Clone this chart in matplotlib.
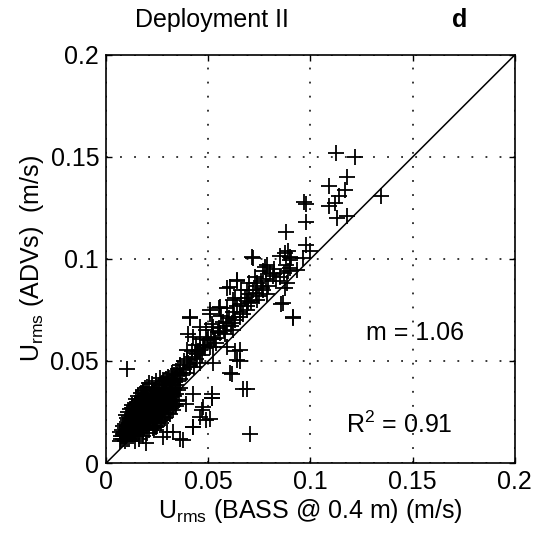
import matplotlib
matplotlib.use("Agg")
import matplotlib.pyplot as plt

plt.rcParams['font.family'] = ['Liberation Sans', 'DejaVu Sans']
plt.rcParams['mathtext.fontset'] = 'custom'
plt.rcParams['mathtext.rm'] = 'Liberation Sans'

# Dense cluster (BASS x, ADV y)
cluster_x = [
    0.007, 0.0072, 0.0068, 0.0071,
    0.008, 0.0082, 0.0079, 0.0081, 0.0083,
    0.009, 0.0092, 0.0089, 0.0091, 0.0093, 0.0088,
    0.010, 0.0102, 0.0099, 0.0101, 0.0103, 0.0098, 0.0104,
    0.011, 0.0112, 0.0109, 0.0111, 0.0113, 0.0108, 0.0114,
    0.012, 0.0122, 0.0119, 0.0121, 0.0123, 0.0118, 0.0124, 0.0117,
    0.013, 0.0132, 0.0129, 0.0131, 0.0133, 0.0128, 0.0134, 0.0127,
    0.014, 0.0142, 0.0139, 0.0141, 0.0143, 0.0138, 0.0144, 0.0137,
    0.015, 0.0152, 0.0149, 0.0151, 0.0153, 0.0148, 0.0154, 0.0147,
    0.016, 0.0162, 0.0159, 0.0161, 0.0163, 0.0158, 0.0164, 0.0157,
    0.017, 0.0172, 0.0169, 0.0171, 0.0173, 0.0168, 0.0174, 0.0167,
    0.018, 0.0182, 0.0179, 0.0181, 0.0183, 0.0178, 0.0184, 0.0177,
    0.019, 0.0192, 0.0189, 0.0191, 0.0193, 0.0188, 0.0194, 0.0187,
    0.020, 0.0202, 0.0199, 0.0201, 0.0203, 0.0198, 0.0204, 0.0197,
    0.021, 0.0212, 0.0209, 0.0211, 0.0213, 0.0208, 0.0214,
    0.022, 0.0222, 0.0219, 0.0221, 0.0223, 0.0218, 0.0224,
    0.023, 0.0232, 0.0229, 0.0231, 0.0233, 0.0228, 0.0234,
    0.024, 0.0242, 0.0239, 0.0241, 0.0243, 0.0238,
    0.025, 0.0252, 0.0249, 0.0251, 0.0253, 0.0248,
    0.026, 0.0262, 0.0259, 0.0261, 0.0263, 0.0258,
    0.027, 0.0272, 0.0269, 0.0271, 0.0273,
    0.028, 0.0282, 0.0279, 0.0281, 0.0283,
    0.029, 0.0292, 0.0289, 0.0291, 0.0293,
    0.030, 0.0302, 0.0299, 0.0301, 0.0303,
    0.031, 0.0312, 0.0309, 0.0311,
    0.032, 0.0322, 0.0319, 0.0321, 0.0323,
    0.033, 0.0332, 0.0329, 0.0331,
    0.034, 0.0342, 0.0339, 0.0341,
    0.035, 0.0352, 0.0349, 0.0351,
    0.036, 0.0362, 0.0359,
    # upper-left edge of the cluster
    0.0095, 0.0118, 0.0139, 0.0158, 0.0179, 0.0201, 0.0222, 0.0243, 0.0262,
    0.0108, 0.0128, 0.0148, 0.0168, 0.0189,
    # lower-right edge of the cluster
    0.0142, 0.0161, 0.0181, 0.0199, 0.0212, 0.0228, 0.0241, 0.0252, 0.0262,
    0.0271, 0.0282, 0.0291, 0.0301, 0.0309, 0.0318, 0.0329, 0.0338, 0.0348,
    0.0232, 0.0248, 0.0268, 0.0288, 0.0311, 0.0327, 0.0344, 0.0358,
]
cluster_y = [
    0.011, 0.013, 0.015, 0.012,
    0.012, 0.014, 0.016, 0.013, 0.018,
    0.011, 0.013, 0.015, 0.017, 0.019, 0.014,
    0.012, 0.014, 0.016, 0.018, 0.020, 0.013, 0.022,
    0.012, 0.014, 0.015, 0.017, 0.019, 0.021, 0.023,
    0.013, 0.015, 0.017, 0.018, 0.020, 0.022, 0.024, 0.014,
    0.013, 0.015, 0.016, 0.018, 0.020, 0.022, 0.025, 0.027,
    0.014, 0.016, 0.018, 0.019, 0.021, 0.023, 0.026, 0.028,
    0.014, 0.016, 0.018, 0.020, 0.022, 0.024, 0.025, 0.029,
    0.015, 0.017, 0.019, 0.021, 0.023, 0.025, 0.027, 0.030,
    0.016, 0.018, 0.020, 0.022, 0.024, 0.026, 0.028, 0.031,
    0.016, 0.019, 0.021, 0.023, 0.025, 0.027, 0.029, 0.032,
    0.017, 0.020, 0.022, 0.024, 0.026, 0.028, 0.030, 0.033,
    0.018, 0.021, 0.023, 0.025, 0.027, 0.029, 0.031, 0.034,
    0.019, 0.022, 0.024, 0.026, 0.028, 0.030, 0.033,
    0.020, 0.023, 0.025, 0.027, 0.029, 0.032, 0.035,
    0.021, 0.024, 0.026, 0.028, 0.031, 0.034, 0.036,
    0.022, 0.025, 0.027, 0.030, 0.033, 0.036,
    0.023, 0.026, 0.029, 0.031, 0.034, 0.037,
    0.024, 0.028, 0.030, 0.033, 0.035, 0.038,
    0.025, 0.029, 0.032, 0.035, 0.039,
    0.027, 0.030, 0.033, 0.036, 0.040,
    0.028, 0.031, 0.034, 0.037, 0.041,
    0.029, 0.032, 0.035, 0.038, 0.042,
    0.030, 0.034, 0.037, 0.040,
    0.031, 0.035, 0.038, 0.041, 0.044,
    0.033, 0.036, 0.039, 0.043,
    0.034, 0.038, 0.041, 0.045,
    0.036, 0.040, 0.043, 0.046,
    0.037, 0.041, 0.044,
    0.0235, 0.0265, 0.0295, 0.0328, 0.0352, 0.0374, 0.0389, 0.0402, 0.0418,
    0.0251, 0.0282, 0.0312, 0.0341, 0.0366,
    0.0108, 0.0118, 0.0131, 0.0148, 0.0162, 0.0171, 0.0182, 0.0195, 0.0207,
    0.0213, 0.0224, 0.0238, 0.0246, 0.0259, 0.0268, 0.0279, 0.0291, 0.0302,
    0.0162, 0.0179, 0.0198, 0.0219, 0.0241, 0.0262, 0.0281, 0.0311,
]

# Middle band
band_x = [
    0.0712, 0.085, 0.090, 0.0963, 0.0933, 0.0883, 0.0778, 0.0817, 0.0639, 0.0606,
    0.0688, 0.0737, 0.0866, 0.0915, 0.0557, 0.0509, 0.0623, 0.0688, 0.0737, 0.0786,
    0.041, 0.046, 0.0524, 0.059, 0.0655, 0.0427, 0.0492, 0.0557, 0.0623, 0.0394,
    0.046, 0.0524, 0.0655, 0.0639, 0.0606, 0.046, 0.0524, 0.041, 0.059,
    0.041, 0.0508, 0.040, 0.055, 0.064, 0.059, 0.072, 0.0785, 0.082,
    0.045, 0.048, 0.050, 0.053, 0.055, 0.057, 0.060, 0.062, 0.064, 0.066,
    0.068, 0.070, 0.072, 0.074, 0.076, 0.078, 0.080, 0.082, 0.044, 0.047,
    0.051, 0.054, 0.058, 0.061, 0.063, 0.067, 0.069, 0.071, 0.075, 0.077,
    0.079, 0.083, 0.085, 0.038, 0.040, 0.042, 0.039, 0.041, 0.043, 0.037,
    0.036, 0.038, 0.042, 0.044, 0.046, 0.049, 0.052, 0.056, 0.059, 0.063,
    0.066, 0.070, 0.073, 0.077, 0.088, 0.090, 0.087, 0.089,
    0.0445, 0.0485, 0.0535, 0.0575, 0.0615, 0.0655, 0.0695, 0.0735, 0.0765,
    0.0395, 0.0435, 0.0475, 0.0515, 0.0545, 0.0585, 0.0625,
]
band_y = [
    0.1009, 0.1017, 0.0993, 0.1007, 0.0944, 0.088, 0.096, 0.0919, 0.0895, 0.0862,
    0.0846, 0.088, 0.0782, 0.0715, 0.0764, 0.0748, 0.0797, 0.0748, 0.0797, 0.083,
    0.0715, 0.0667, 0.0667, 0.0684, 0.0715, 0.0618, 0.0601, 0.0635, 0.065, 0.0553,
    0.0553, 0.0569, 0.0553, 0.0504, 0.044, 0.0489, 0.0489, 0.047, 0.0569,
    0.071, 0.073, 0.063, 0.076, 0.089, 0.086, 0.1007, 0.097, 0.0925,
    0.055, 0.058, 0.062, 0.061, 0.066, 0.069, 0.071, 0.074, 0.077, 0.078,
    0.081, 0.083, 0.085, 0.087, 0.089, 0.090, 0.093, 0.095, 0.051, 0.053,
    0.057, 0.059, 0.063, 0.067, 0.070, 0.073, 0.077, 0.079, 0.082, 0.085,
    0.087, 0.089, 0.091, 0.046, 0.049, 0.052, 0.044, 0.048, 0.047, 0.043,
    0.048, 0.050, 0.055, 0.058, 0.061, 0.065, 0.068, 0.072, 0.076, 0.081,
    0.085, 0.088, 0.091, 0.094, 0.097, 0.101, 0.093, 0.094,
    0.0535, 0.0565, 0.0612, 0.0648, 0.0688, 0.0742, 0.0785, 0.0832, 0.0858,
    0.0512, 0.0538, 0.0572, 0.0608, 0.0641, 0.0672, 0.0715,
]

# Scattered points (high end and off-diagonal)
sparse_x = [
    0.1127, 0.122, 0.118, 0.109, 0.117, 0.114, 0.112, 0.109, 0.113, 0.118,
    0.1347, 0.098, 0.097, 0.098, 0.088, 0.089, 0.0875, 0.098, 0.0997, 0.0907,
    0.090, 0.0875, 0.0858, 0.0915, 0.0687, 0.063, 0.0655, 0.0614, 0.067, 0.0687,
    0.0516, 0.052, 0.0704, 0.0101, 0.0508, 0.046, 0.0427, 0.036, 0.0296, 0.0476,
    0.028, 0.0377, 0.0328, 0.0425, 0.049, 0.047, 0.039, 0.0425, 0.052, 0.0245,
    0.0196, 0.018, 0.021, 0.028,
]
sparse_y = [
    0.152, 0.150, 0.140, 0.136, 0.134, 0.131, 0.1275, 0.126, 0.120, 0.121,
    0.131, 0.127, 0.128, 0.118, 0.113, 0.104, 0.103, 0.107, 0.104, 0.1007,
    0.0958, 0.086, 0.078, 0.071, 0.0795, 0.055, 0.050, 0.0436, 0.0363, 0.0363,
    0.0339, 0.032, 0.0143, 0.046, 0.0217, 0.0225, 0.0176, 0.012, 0.015, 0.0274,
    0.0127, 0.0112, 0.015, 0.0176, 0.021, 0.026, 0.029, 0.034, 0.032, 0.0176,
    0.010, 0.0357, 0.039, 0.0405,
]

ticks = [0, 0.05, 0.1, 0.15, 0.2]
tick_labels = ['0', '0.05', '0.1', '0.15', '0.2']

fig = plt.figure(figsize=(5.39, 5.39), dpi=100)
ax = fig.add_axes([0.197, 0.141, 0.758, 0.757])

mk = dict(linestyle='none', marker='+', color='black', markersize=12, markeredgewidth=1.3)
ax.plot(cluster_x, cluster_y, **mk)
ax.plot(band_x, band_y, **mk)
ax.plot(sparse_x, sparse_y, **mk)
ax.plot([0, 0.2], [0, 0.2], color='black', linewidth=1.1)

ax.set_xlim(0, 0.2)
ax.set_ylim(0, 0.2)
ax.set_xticks(ticks)
ax.set_yticks(ticks)
ax.set_xticklabels(tick_labels)
ax.set_yticklabels(tick_labels)
ax.tick_params(direction='in', top=True, right=True, length=4, width=1,
               labelsize=18, pad=5)
ax.grid(True, color='black', linestyle=(0, (1.2, 8)), linewidth=1.1)
for s in ax.spines.values():
    s.set_linewidth(1.2)

ax.set_xlabel(r'$\mathregular{U_{rms}}$ (BASS @ 0.4 m) (m/s)', fontsize=18, labelpad=2)
ax.set_ylabel(r'$\mathregular{U_{rms}}$ (ADVs)  (m/s)', fontsize=18, labelpad=3)

ax.text(0.151, 0.0636, 'm = 1.06', fontsize=18, ha='center', va='center')
ax.text(0.1437, 0.0186, r'R$^2$ = 0.91', fontsize=18, ha='center', va='center')

fig.text(212 / 539, 1 - 20 / 539, 'Deployment II', fontsize=18, ha='center', va='center')
fig.text(460 / 539, 1 - 20 / 539, 'd', fontsize=18, fontweight='bold', ha='center', va='center')

fig.savefig('out.png', dpi=100)
